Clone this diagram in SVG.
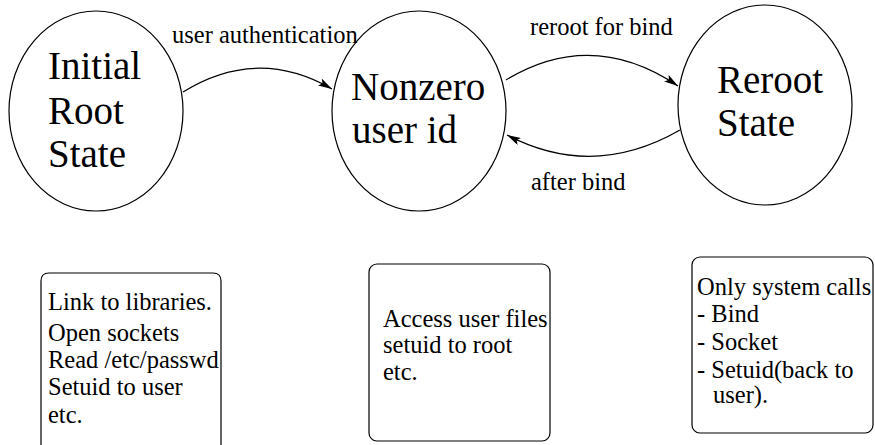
<svg xmlns="http://www.w3.org/2000/svg" width="875" height="445" viewBox="0 0 875 445">
<defs>
<marker id="ah" viewBox="0 0 14 8" markerWidth="14" markerHeight="8" refX="14" refY="4" orient="auto" markerUnits="userSpaceOnUse">
<path d="M0,0 L14,4 L0,8 L3,4 z" fill="#000"/>
</marker>
</defs>
<style>
.st{fill:#fff;stroke:#000;stroke-width:1.2}
.box{fill:#fff;stroke:#000;stroke-width:1.2}
.big{font-size:39px}
.sm{font-size:24.5px}
.con{fill:none;stroke:#000;stroke-width:1.2;marker-end:url(#ah)}
</style>
<rect width="875" height="445" fill="#fff"/>
<g font-family="Liberation Serif, DejaVu Serif, serif" fill="#000">
<g id="n-initial">
<ellipse class="st" cx="96" cy="111" rx="87" ry="100"/>
<text class="big" x="48" y="79">Initial</text>
<text class="big" x="48" y="124">Root</text>
<text class="big" x="48" y="167">State</text>
</g>
<g id="n-nonzero">
<ellipse class="st" cx="419" cy="111" rx="87" ry="100"/>
<text class="big" x="351" y="100">Nonzero</text>
<text class="big" x="352" y="143">user id</text>
</g>
<g id="n-reroot">
<ellipse class="st" cx="765" cy="105" rx="87" ry="100"/>
<text class="big" x="717" y="93">Reroot</text>
<text class="big" x="717" y="136">State</text>
</g>
<g id="b-initial">
<path class="box" d="M41,445 L41,281 Q41,273 49,273 L213,273 Q221,273 221,281 L221,445"/>
<text class="sm" x="48" y="310">Link to libraries.</text>
<text class="sm" x="48" y="341">Open sockets</text>
<text class="sm" x="48" y="368">Read /etc/passwd</text>
<text class="sm" x="48" y="395">Setuid to user</text>
<text class="sm" x="48" y="423">etc.</text>
</g>
<g id="b-nonzero">
<rect class="box" x="369" y="264" width="181" height="177" rx="8"/>
<text class="sm" x="383" y="327">Access user files</text>
<text class="sm" x="383" y="353">setuid to root</text>
<text class="sm" x="383" y="380">etc.</text>
</g>
<g id="b-reroot">
<rect class="box" x="692" y="257" width="181" height="176" rx="8"/>
<text class="sm" x="697" y="295">Only system calls</text>
<text class="sm" x="697" y="322">- Bind</text>
<text class="sm" x="697" y="350">- Socket</text>
<text class="sm" x="697" y="378">- Setuid(back to</text>
<text class="sm" x="713" y="403">user).</text>
</g>
<g id="connectors">
<path class="con" d="M183,92 Q257,46 332,89"/>
<path class="con" d="M506,80 Q592,28 678,86"/>
<path class="con" d="M680,130 Q593,180 507,135"/>
<text class="sm" x="172" y="43">user authentication</text>
<text class="sm" x="530" y="35">reroot for bind</text>
<text class="sm" x="531" y="190">after bind</text>
</g>
</g>
</svg>
